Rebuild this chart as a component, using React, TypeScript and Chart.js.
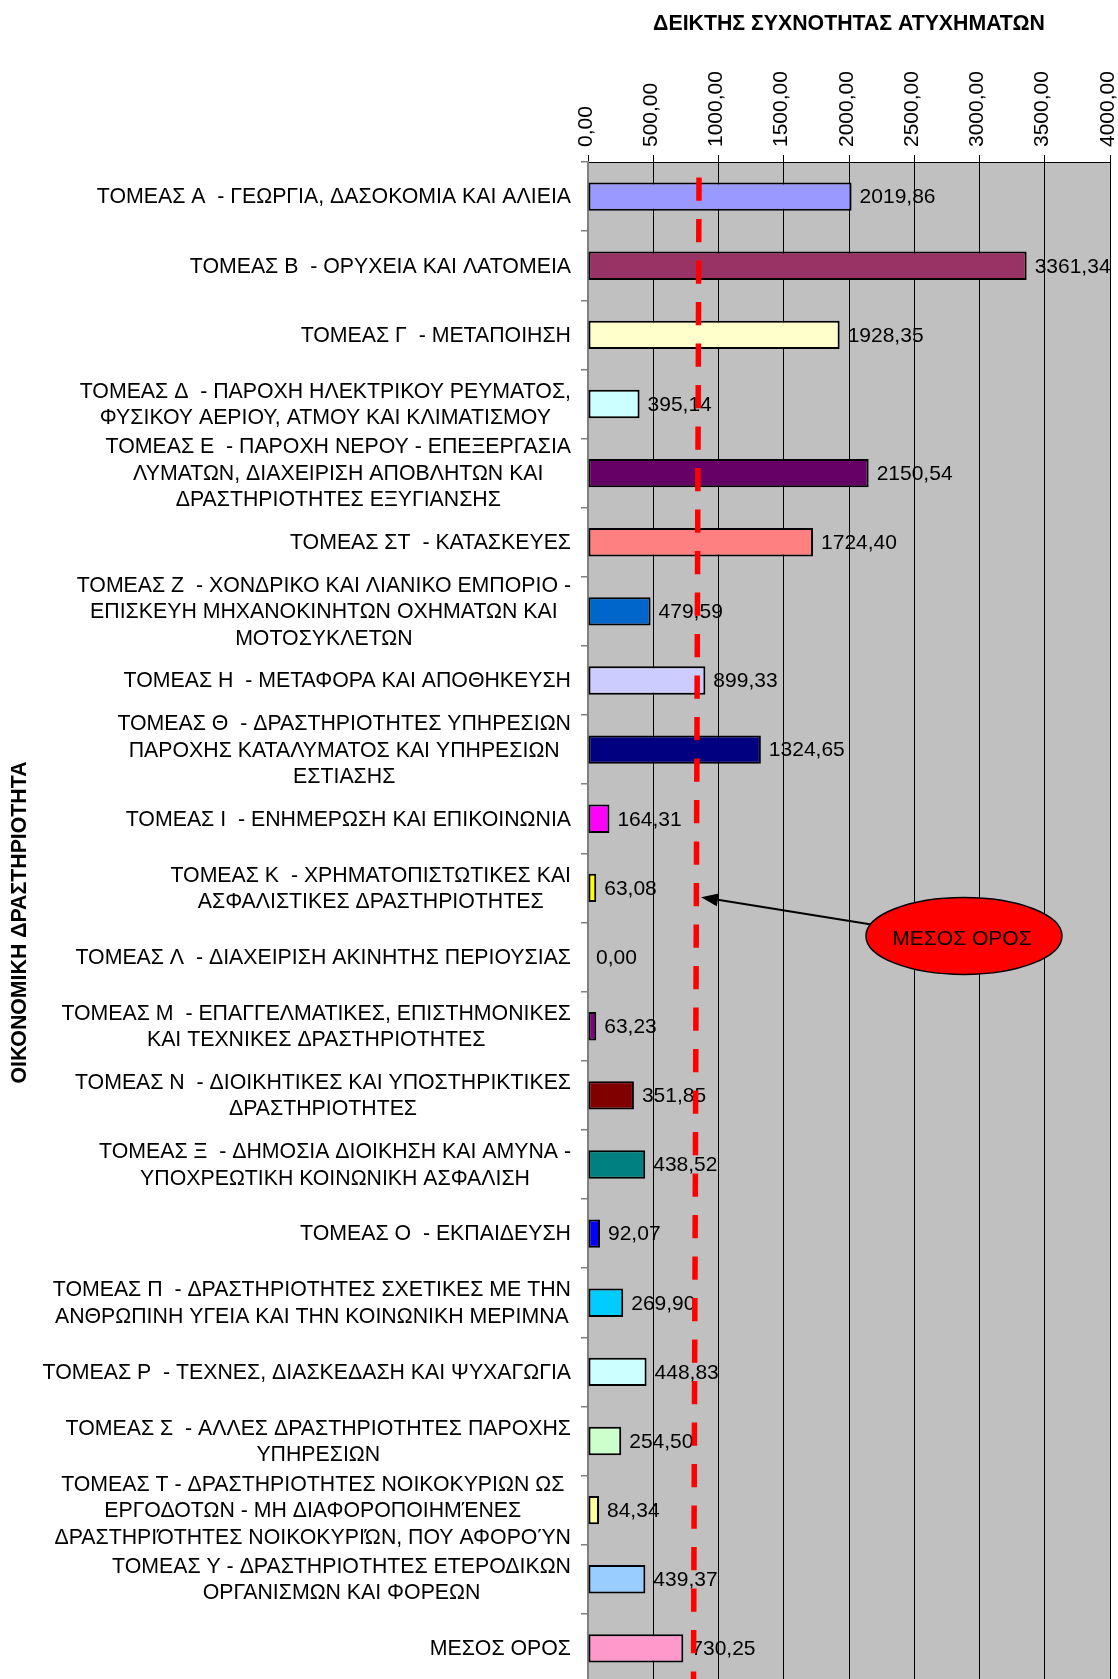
import React, { useEffect, useRef } from 'react';
import { Chart, registerables } from 'chart.js';

Chart.register(...registerables);

const categories: (string | string[])[] = [
  'ΤΟΜΕΑΣ Α  - ΓΕΩΡΓΙΑ, ΔΑΣΟΚΟΜΙΑ ΚΑΙ ΑΛΙΕΙΑ',
  'ΤΟΜΕΑΣ Β  - ΟΡΥΧΕΙΑ ΚΑΙ ΛΑΤΟΜΕΙΑ',
  'ΤΟΜΕΑΣ Γ  - ΜΕΤΑΠΟΙΗΣΗ',
  ['ΤΟΜΕΑΣ Δ  - ΠΑΡΟΧΗ ΗΛΕΚΤΡΙΚΟΥ ΡΕΥΜΑΤΟΣ,', 'ΦΥΣΙΚΟΥ ΑΕΡΙΟΥ, ΑΤΜΟΥ ΚΑΙ ΚΛΙΜΑΤΙΣΜΟΥ'],
  ['ΤΟΜΕΑΣ Ε  - ΠΑΡΟΧΗ ΝΕΡΟΥ - ΕΠΕΞΕΡΓΑΣΙΑ', 'ΛΥΜΑΤΩΝ, ΔΙΑΧΕΙΡΙΣΗ ΑΠΟΒΛΗΤΩΝ ΚΑΙ', 'ΔΡΑΣΤΗΡΙΟΤΗΤΕΣ ΕΞΥΓΙΑΝΣΗΣ'],
  'ΤΟΜΕΑΣ ΣΤ  - ΚΑΤΑΣΚΕΥΕΣ',
  ['ΤΟΜΕΑΣ Ζ  - ΧΟΝΔΡΙΚΟ ΚΑΙ ΛΙΑΝΙΚΟ ΕΜΠΟΡΙΟ -', 'ΕΠΙΣΚΕΥΗ ΜΗΧΑΝΟΚΙΝΗΤΩΝ ΟΧΗΜΑΤΩΝ ΚΑΙ', 'ΜΟΤΟΣΥΚΛΕΤΩΝ'],
  'ΤΟΜΕΑΣ Η  - ΜΕΤΑΦΟΡΑ ΚΑΙ ΑΠΟΘΗΚΕΥΣΗ',
  ['ΤΟΜΕΑΣ Θ  - ΔΡΑΣΤΗΡΙΟΤΗΤΕΣ ΥΠΗΡΕΣΙΩΝ', 'ΠΑΡΟΧΗΣ ΚΑΤΑΛΥΜΑΤΟΣ ΚΑΙ ΥΠΗΡΕΣΙΩΝ', 'ΕΣΤΙΑΣΗΣ'],
  'ΤΟΜΕΑΣ Ι  - ΕΝΗΜΕΡΩΣΗ ΚΑΙ ΕΠΙΚΟΙΝΩΝΙΑ',
  ['ΤΟΜΕΑΣ Κ  - ΧΡΗΜΑΤΟΠΙΣΤΩΤΙΚΕΣ ΚΑΙ', 'ΑΣΦΑΛΙΣΤΙΚΕΣ ΔΡΑΣΤΗΡΙΟΤΗΤΕΣ'],
  'ΤΟΜΕΑΣ Λ  - ΔΙΑΧΕΙΡΙΣΗ ΑΚΙΝΗΤΗΣ ΠΕΡΙΟΥΣΙΑΣ',
  ['ΤΟΜΕΑΣ Μ  - ΕΠΑΓΓΕΛΜΑΤΙΚΕΣ, ΕΠΙΣΤΗΜΟΝΙΚΕΣ', 'ΚΑΙ ΤΕΧΝΙΚΕΣ ΔΡΑΣΤΗΡΙΟΤΗΤΕΣ'],
  ['ΤΟΜΕΑΣ Ν  - ΔΙΟΙΚΗΤΙΚΕΣ ΚΑΙ ΥΠΟΣΤΗΡΙΚΤΙΚΕΣ', 'ΔΡΑΣΤΗΡΙΟΤΗΤΕΣ'],
  ['ΤΟΜΕΑΣ Ξ  - ΔΗΜΟΣΙΑ ΔΙΟΙΚΗΣΗ ΚΑΙ ΑΜΥΝΑ -', 'ΥΠΟΧΡΕΩΤΙΚΗ ΚΟΙΝΩΝΙΚΗ ΑΣΦΑΛΙΣΗ'],
  'ΤΟΜΕΑΣ Ο  - ΕΚΠΑΙΔΕΥΣΗ',
  ['ΤΟΜΕΑΣ Π  - ΔΡΑΣΤΗΡΙΟΤΗΤΕΣ ΣΧΕΤΙΚΕΣ ΜΕ ΤΗΝ', 'ΑΝΘΡΩΠΙΝΗ ΥΓΕΙΑ ΚΑΙ ΤΗΝ ΚΟΙΝΩΝΙΚΗ ΜΕΡΙΜΝΑ'],
  'ΤΟΜΕΑΣ Ρ  - ΤΕΧΝΕΣ, ΔΙΑΣΚΕΔΑΣΗ ΚΑΙ ΨΥΧΑΓΩΓΙΑ',
  ['ΤΟΜΕΑΣ Σ  - ΑΛΛΕΣ ΔΡΑΣΤΗΡΙΟΤΗΤΕΣ ΠΑΡΟΧΗΣ', 'ΥΠΗΡΕΣΙΩΝ'],
  ['ΤΟΜΕΑΣ Τ - ΔΡΑΣΤΗΡΙΟΤΗΤΕΣ ΝΟΙΚΟΚΥΡΙΩΝ ΩΣ', 'ΕΡΓΟΔΟΤΩΝ - ΜΗ ΔΙΑΦΟΡΟΠΟΙΗΜΈΝΕΣ', 'ΔΡΑΣΤΗΡΙΌΤΗΤΕΣ ΝΟΙΚΟΚΥΡΙΏΝ, ΠΟΥ ΑΦΟΡΟΎΝ'],
  ['ΤΟΜΕΑΣ Υ - ΔΡΑΣΤΗΡΙΟΤΗΤΕΣ ΕΤΕΡΟΔΙΚΩΝ', 'ΟΡΓΑΝΙΣΜΩΝ ΚΑΙ ΦΟΡΕΩΝ'],
  'ΜΕΣΟΣ ΟΡΟΣ',
];

const values: number[] = [
  2019.86, 3361.34, 1928.35, 395.14, 2150.54, 1724.4, 479.59, 899.33, 1324.65, 164.31, 63.08,
  0.0, 63.23, 351.85, 438.52, 92.07, 269.9, 448.83, 254.5, 84.34, 439.37, 730.25,
];

const barColors: string[] = [
  '#9999FF', '#993366', '#FFFFCC', '#CCFFFF', '#660066', '#FF8080', '#0066CC', '#CCCCFF',
  '#000080', '#FF00FF', '#FFFF00', '#00FFFF', '#800080', '#800000', '#008080', '#0000FF',
  '#00CCFF', '#CCFFFF', '#CCFFCC', '#FFFF99', '#99CCFF', '#FF99CC',
];

const axisMin = 0;
const axisMax = 4000;
const axisStep = 500;

const xTitle = 'ΔΕΙΚΤΗΣ ΣΥΧΝΟΤΗΤΑΣ ΑΤΥΧΗΜΑΤΩΝ';
const yTitle = 'ΟΙΚΟΝΟΜΙΚΗ ΔΡΑΣΤΗΡΙΟΤΗΤΑ';
const calloutText = 'ΜΕΣΟΣ ΟΡΟΣ';

// hand-drawn dashed "average" marker: [value, category index] at its two ends
const meanLineStart = [850.6, -0.275];
const meanLineEnd = [808.4, 21.45];
// callout ellipse: centre [value, index], radii [value units, index units]
const calloutCenter = [2881, 10.694];
const calloutRadii = [751, 0.557];
// arrow from callout to marker: tail / tip [value, index]
const arrowTail = [2171, 10.53];
const arrowTip = [866.5, 10.133];

const FONT = '"Liberation Sans", Arial, sans-serif';
const fmt = (v: number) => v.toFixed(2).replace('.', ',');

const plotBgPlugin = {
  id: 'plotBg',
  beforeDraw(chart: any) {
    const { ctx, chartArea: a } = chart;
    ctx.save();
    ctx.fillStyle = '#C0C0C0';
    ctx.fillRect(a.left, a.top, a.right - a.left, a.bottom - a.top);
    ctx.restore();
  },
};

const yLabelsPlugin = {
  id: 'yLabels',
  afterDraw(chart: any) {
    const { ctx } = chart;
    const ys = chart.scales.y;
    ctx.save();
    ctx.font = `21.3px ${FONT}`;
    ctx.fillStyle = '#000';
    ctx.textBaseline = 'middle';
    ctx.textAlign = 'center';
    const right = chart.chartArea.left - 17;
    const lh = 26.5;
    categories.forEach((lab, i) => {
      const lines = Array.isArray(lab) ? lab : [lab];
      const w = Math.max(...lines.map((l) => ctx.measureText(l).width));
      const cy = ys.getPixelForValue(i) + 1;
      lines.forEach((l, k) => {
        ctx.fillText(l, right - w / 2, cy + (k - (lines.length - 1) / 2) * lh);
      });
    });
    ctx.restore();
  },
};

const overlayPlugin = {
  id: 'overlay',
  afterDatasetsDraw(chart: any) {
    const { ctx } = chart;
    const xs = chart.scales.x;
    const ys = chart.scales.y;
    const px = (p: number[]) => [xs.getPixelForValue(p[0]), ys.getPixelForValue(p[1])];
    ctx.save();
    // data labels
    ctx.font = `21px ${FONT}`;
    ctx.fillStyle = '#000';
    ctx.textBaseline = 'middle';
    ctx.textAlign = 'left';
    const meta = chart.getDatasetMeta(0);
    meta.data.forEach((bar: any, i: number) => {
      ctx.fillText(fmt(values[i]), bar.x + 8, bar.y + 1);
    });
    // dashed average marker
    const [x1, y1] = px(meanLineStart);
    const [x2, y2] = px(meanLineEnd);
    ctx.strokeStyle = '#FF0000';
    ctx.lineWidth = 5.5;
    ctx.setLineDash([23.3, 18.2]);
    ctx.beginPath();
    ctx.moveTo(x1, y1);
    ctx.lineTo(x2, y2);
    ctx.stroke();
    ctx.setLineDash([]);
    // arrow
    const [tx, ty] = px(arrowTail);
    const [hx, hy] = px(arrowTip);
    const ang = Math.atan2(hy - ty, hx - tx);
    const headLen = 17;
    const headHalf = 6.5;
    const bx = hx - headLen * Math.cos(ang);
    const by = hy - headLen * Math.sin(ang);
    ctx.strokeStyle = '#000';
    ctx.lineWidth = 2;
    ctx.beginPath();
    ctx.moveTo(tx, ty);
    ctx.lineTo(bx, by);
    ctx.stroke();
    ctx.fillStyle = '#000';
    ctx.beginPath();
    ctx.moveTo(hx, hy);
    ctx.lineTo(bx + headHalf * Math.sin(ang), by - headHalf * Math.cos(ang));
    ctx.lineTo(bx - headHalf * Math.sin(ang), by + headHalf * Math.cos(ang));
    ctx.closePath();
    ctx.fill();
    // callout ellipse
    const [cx, cy] = px(calloutCenter);
    const rx = xs.getPixelForValue(calloutCenter[0] + calloutRadii[0]) - cx;
    const ry = ys.getPixelForValue(calloutCenter[1] + calloutRadii[1]) - cy;
    ctx.beginPath();
    ctx.ellipse(cx, cy, rx, ry, 0, 0, Math.PI * 2);
    ctx.fillStyle = '#FF0000';
    ctx.fill();
    ctx.strokeStyle = '#000';
    ctx.lineWidth = 1.5;
    ctx.stroke();
    ctx.fillStyle = '#000';
    ctx.font = `21px ${FONT}`;
    ctx.textAlign = 'center';
    ctx.textBaseline = 'middle';
    ctx.fillText(calloutText, cx - 2, cy + 3.5);
    ctx.restore();
  },
};

export default function App() {
  const ref = useRef<HTMLCanvasElement | null>(null);
  useEffect(() => {
    if (!ref.current) return;
    const chart = new Chart(ref.current, {
      type: 'bar',
      data: {
        labels: categories.map((c) => (Array.isArray(c) ? c.join(' ') : c)),
        datasets: [
          {
            data: values,
            backgroundColor: barColors,
            borderColor: '#000',
            borderWidth: 2,
            borderSkipped: false,
            barPercentage: 0.41,
            categoryPercentage: 1,
          },
        ],
      },
      options: {
        indexAxis: 'y',
        responsive: false,
        animation: false,
        devicePixelRatio: 1,
        layout: { padding: { left: 0, top: 0, right: 8, bottom: 7 } },
        plugins: { legend: { display: false }, tooltip: { enabled: false }, title: { display: false } },
        scales: {
          x: {
            type: 'linear',
            position: 'top',
            min: axisMin,
            max: axisMax,
            afterFit: (s: any) => {
              s.height = 162;
            },
            ticks: {
              stepSize: axisStep,
              autoSkip: false,
              minRotation: 90,
              maxRotation: 90,
              padding: 8,
              labelOffset: 23,
              color: '#000',
              font: { family: FONT, size: 21 },
              callback: (v: any) => fmt(Number(v)),
            },
            grid: {
              color: (c: any) => (c.tick && c.tick.value === 0 ? 'rgba(0,0,0,0)' : '#000'),
              tickColor: '#000',
              lineWidth: 1,
              tickLength: 7,
              drawTicks: true,
            },
            border: { display: true, color: '#000', width: 1 },
            title: {
              display: true,
              text: xTitle,
              color: '#000',
              font: { family: FONT, size: 21.3, weight: 'bold' },
              padding: { top: 11, bottom: 0 },
            },
          },
          y: {
            type: 'category',
            afterFit: (s: any) => {
              s.width = 588;
            },
            ticks: { display: false },
            grid: {
              offset: true,
              drawOnChartArea: false,
              drawTicks: true,
              tickLength: 7,
              color: '#808080',
              lineWidth: 1.5,
            },
            border: { display: true, color: '#808080', width: 2 },
            title: {
              display: true,
              text: yTitle,
              color: '#000',
              font: { family: FONT, size: 21.3, weight: 'bold' },
              padding: { top: 7.5, bottom: 0 },
            },
          },
        },
      },
      plugins: [plotBgPlugin, yLabelsPlugin, overlayPlugin],
    } as any);
    return () => chart.destroy();
  }, []);

  return (
    <div
      style={{
        position: 'absolute',
        left: 0,
        top: 0,
        width: 1118,
        height: 1679,
        overflow: 'hidden',
        background: '#fff',
      }}
    >
      <canvas ref={ref} width={1118} height={1690} style={{ display: 'block', width: 1118, height: 1690 }} />
    </div>
  );
}
